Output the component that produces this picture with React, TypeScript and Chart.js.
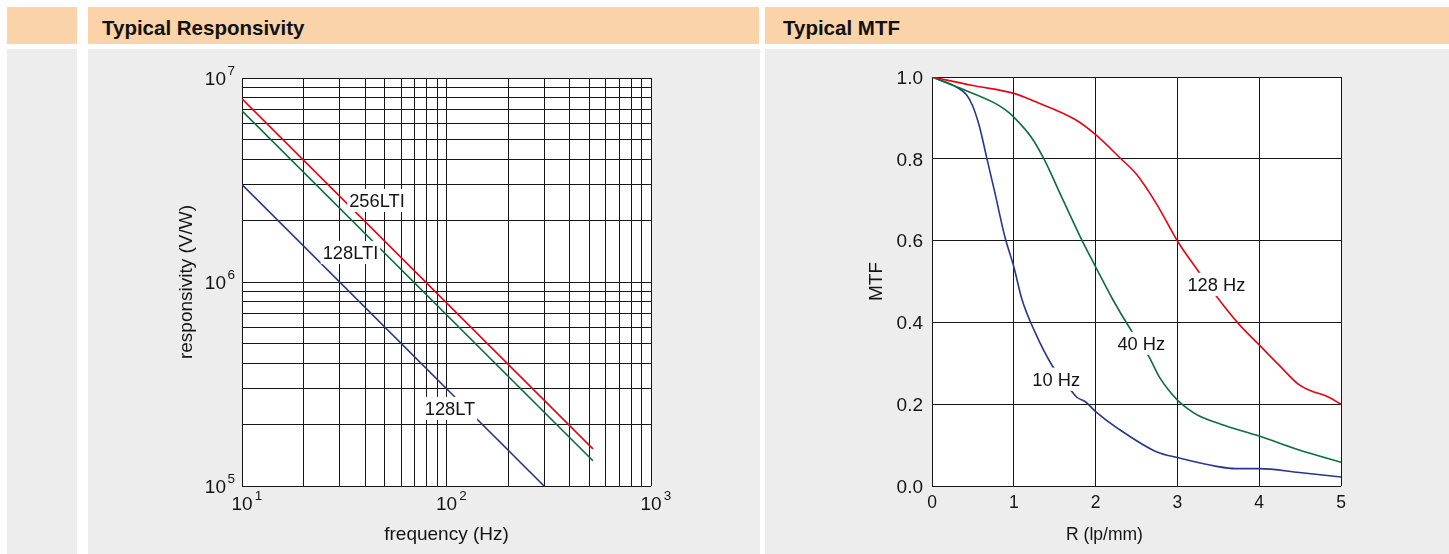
import { useEffect, useRef } from 'react';
import { Chart, registerables } from 'chart.js';

Chart.register(...registerables);

const FONT = '"Liberation Sans", Arial, Helvetica, sans-serif';
const TEXT_COLOR = '#141414';
const GRID_COLOR = '#161616';
const PEACH = '#FAD3A8';
const PANEL_GREY = '#ECEDEC';
const RED = '#E30613';
const GREEN = '#0B6E3C';
const BLUE = '#26378C';

// ---------- Typical Responsivity ----------
const RESP_X_GRID = [10, 20, 30, 40, 50, 60, 70, 80, 90, 100, 200, 300, 400, 500, 600, 700, 800, 900, 1000];
const RESP_Y_GRID = [
  1e5, 2e5, 3e5, 4e5, 5e5, 6e5, 7e5, 8e5, 9e5,
  1e6, 2e6, 3e6, 4e6, 5e6, 6e6, 7e6, 8e6, 9e6, 1e7,
];
const RESP_X_TICKS = [10, 100, 1000];
const RESP_X_EXP = ['1', '2', '3'];
const RESP_Y_TICKS = [1e5, 1e6, 1e7];
const RESP_Y_EXP = ['5', '6', '7'];

const FREQ_256LTI = [10, 520];
const RESP_256LTI = [7.9e6, 1.52e5];
const FREQ_128LTI = [10, 520];
const RESP_128LTI = [6.9e6, 1.33e5];
const FREQ_128LT = [10, 300];
const RESP_128LT = [3.0e6, 1.0e5];

const RESP_LABELS = ['256LTI', '128LTI', '128LT'];
const RESP_LABEL_X = [45.7, 33.9, 104];
const RESP_LABEL_Y = [2.51e6, 1.395e6, 2.4e5];

// ---------- Typical MTF ----------
const MTF_R_128 = [0, 0.5, 1.0, 1.26, 1.75, 2.0, 2.3, 2.5, 2.75, 3.0, 3.26, 3.5, 3.76, 4.0, 4.24, 4.49, 4.63, 4.82, 5.0];
const MTF_128 = [1.0, 0.979, 0.96, 0.94, 0.896, 0.859, 0.802, 0.762, 0.688, 0.599, 0.524, 0.458, 0.394, 0.345, 0.296, 0.247, 0.233, 0.22, 0.2];

const MTF_R_40 = [0, 0.34, 0.75, 0.89, 1.0, 1.22, 1.37, 1.6, 1.84, 2.0, 2.21, 2.43, 2.65, 2.79, 3.0, 3.12, 3.25, 3.53, 4.0, 4.49, 5.0];
const MTF_40 = [1.0, 0.973, 0.938, 0.921, 0.902, 0.851, 0.799, 0.7, 0.598, 0.536, 0.456, 0.382, 0.317, 0.263, 0.21, 0.19, 0.173, 0.151, 0.122, 0.088, 0.058];

const MTF_R_10 = [0, 0.32, 0.42, 0.5, 0.58, 0.665, 0.77, 0.89, 1.0, 1.1, 1.255, 1.47, 1.69, 1.77, 1.875, 2.0, 2.27, 2.75, 3.0, 3.48, 3.71, 4.0, 4.49, 5.0];
const MTF_10 = [1.0, 0.973, 0.957, 0.928, 0.879, 0.806, 0.716, 0.61, 0.536, 0.456, 0.378, 0.294, 0.236, 0.217, 0.206, 0.182, 0.141, 0.083, 0.0695, 0.048, 0.0425, 0.0425, 0.033, 0.022];

const MTF_LABELS = ['128 Hz', '40 Hz', '10 Hz'];
const MTF_LABEL_R = [3.477, 2.559, 1.518];
const MTF_LABEL_M = [0.493, 0.349, 0.261];

const zip = (xs: number[], ys: number[]) => xs.map((x, i) => ({ x, y: ys[i] }));

function drawBoxedLabel(ctx: CanvasRenderingContext2D, text: string, cx: number, cy: number, size: number) {
  ctx.font = `${size}px ${FONT}`;
  const w = ctx.measureText(text).width;
  const cap = size * 0.716;
  ctx.fillStyle = '#ffffff';
  ctx.fillRect(cx - w / 2 - 2, cy - cap / 2 - 5, w + 4, cap + 10);
  ctx.fillStyle = TEXT_COLOR;
  ctx.textAlign = 'center';
  ctx.textBaseline = 'alphabetic';
  ctx.fillText(text, cx, cy + cap / 2);
}

function drawTitles(
  chart: any,
  xTitle: string,
  xSize: number,
  xCenterOffset: number,
  yTitle: string,
  ySize: number,
) {
  const { ctx, chartArea } = chart;
  ctx.save();
  ctx.fillStyle = TEXT_COLOR;
  ctx.textAlign = 'center';
  ctx.textBaseline = 'alphabetic';
  ctx.font = `${xSize}px ${FONT}`;
  ctx.fillText(xTitle, chartArea.left + xCenterOffset, chartArea.bottom + 54);
  ctx.translate(chartArea.left - 50, (chartArea.top + chartArea.bottom) / 2);
  ctx.rotate(-Math.PI / 2);
  ctx.font = `${ySize}px ${FONT}`;
  ctx.fillText(yTitle, 0, 0);
  ctx.restore();
}

const whiteArea = {
  id: 'whiteArea',
  beforeDraw(chart: any) {
    const { ctx, chartArea } = chart;
    ctx.save();
    ctx.fillStyle = '#ffffff';
    ctx.fillRect(chartArea.left, chartArea.top, chartArea.right - chartArea.left, chartArea.bottom - chartArea.top);
    ctx.restore();
  },
};

function ResponsivityChart() {
  const ref = useRef<HTMLCanvasElement | null>(null);
  useEffect(() => {
    if (!ref.current) return;
    const labelsPlugin = {
      id: 'respLabels',
      afterDatasetsDraw(chart: any) {
        const { ctx, scales } = chart;
        ctx.save();
        RESP_LABELS.forEach((t, i) => {
          drawBoxedLabel(ctx, t, scales.x.getPixelForValue(RESP_LABEL_X[i]), scales.y.getPixelForValue(RESP_LABEL_Y[i]), 18.3);
        });
        ctx.restore();
      },
      afterDraw(chart: any) {
        const { ctx, chartArea, scales } = chart;
        ctx.save();
        ctx.fillStyle = TEXT_COLOR;
        ctx.textBaseline = 'alphabetic';
        RESP_Y_TICKS.forEach((v, i) => {
          const y = scales.y.getPixelForValue(v);
          ctx.font = `19px ${FONT}`;
          ctx.textAlign = 'right';
          ctx.fillText('10', chartArea.left - 16, y + 7);
          ctx.font = `13.5px ${FONT}`;
          ctx.textAlign = 'left';
          ctx.fillText(RESP_Y_EXP[i], chartArea.left - 14.5, y - 3);
        });
        RESP_X_TICKS.forEach((v, i) => {
          const x = scales.x.getPixelForValue(v);
          ctx.font = `19px ${FONT}`;
          ctx.textAlign = 'center';
          const w = ctx.measureText('10').width;
          ctx.fillText('10', x, chartArea.bottom + 24);
          ctx.font = `13.5px ${FONT}`;
          ctx.textAlign = 'left';
          ctx.fillText(RESP_X_EXP[i], x + w / 2 + 2.3, chartArea.bottom + 14);
        });
        ctx.restore();
        drawTitles(chart, 'frequency (Hz)', 19, (chartArea.right - chartArea.left) / 2, 'responsivity (V/W)', 19);
      },
    };
    const chart = new Chart(ref.current, {
      type: 'line',
      data: {
        datasets: [
          { label: '256LTI', data: zip(FREQ_256LTI, RESP_256LTI), borderColor: RED, borderWidth: 1.6, pointRadius: 0 },
          { label: '128LTI', data: zip(FREQ_128LTI, RESP_128LTI), borderColor: GREEN, borderWidth: 1.6, pointRadius: 0 },
          { label: '128LT', data: zip(FREQ_128LT, RESP_128LT), borderColor: BLUE, borderWidth: 1.6, pointRadius: 0 },
        ],
      },
      options: {
        animation: false,
        responsive: false,
        events: [],
        layout: { padding: { left: 154, top: 29, right: 109, bottom: 68 } },
        plugins: { legend: { display: false }, tooltip: { enabled: false } },
        scales: {
          x: {
            type: 'logarithmic',
            min: 10,
            max: 1000,
            afterBuildTicks: (s: any) => {
              s.ticks = RESP_X_GRID.map((v) => ({ value: v }));
            },
            afterFit: (s: any) => {
              s.height = 0;
            },
            ticks: { display: false },
            grid: { color: GRID_COLOR, lineWidth: 1, drawTicks: false },
            border: { display: false },
          },
          y: {
            type: 'logarithmic',
            min: 1e5,
            max: 1e7,
            afterBuildTicks: (s: any) => {
              s.ticks = RESP_Y_GRID.map((v) => ({ value: v }));
            },
            afterFit: (s: any) => {
              s.width = 0;
            },
            ticks: { display: false },
            grid: { color: GRID_COLOR, lineWidth: 1, drawTicks: false },
            border: { display: false },
          },
        },
      } as any,
      plugins: [whiteArea, labelsPlugin],
    });
    return () => chart.destroy();
  }, []);
  return (
    <canvas
      ref={ref}
      width={672}
      height={505}
      style={{ position: 'absolute', left: 88, top: 49, width: 672, height: 505 }}
    />
  );
}

function MtfChart() {
  const ref = useRef<HTMLCanvasElement | null>(null);
  useEffect(() => {
    if (!ref.current) return;
    const labelsPlugin = {
      id: 'mtfLabels',
      afterDatasetsDraw(chart: any) {
        const { ctx, scales } = chart;
        ctx.save();
        MTF_LABELS.forEach((t, i) => {
          drawBoxedLabel(ctx, t, scales.x.getPixelForValue(MTF_LABEL_R[i]), scales.y.getPixelForValue(MTF_LABEL_M[i]), 18.3);
        });
        ctx.restore();
      },
      afterDraw(chart: any) {
        drawTitles(chart, 'R (lp/mm)', 17.5, 172.5, 'MTF', 19);
      },
    };
    const chart = new Chart(ref.current, {
      type: 'line',
      data: {
        datasets: [
          { label: '128 Hz', data: zip(MTF_R_128, MTF_128), borderColor: RED, borderWidth: 1.6, pointRadius: 0, cubicInterpolationMode: 'monotone' },
          { label: '40 Hz', data: zip(MTF_R_40, MTF_40), borderColor: GREEN, borderWidth: 1.6, pointRadius: 0, cubicInterpolationMode: 'monotone' },
          { label: '10 Hz', data: zip(MTF_R_10, MTF_10), borderColor: BLUE, borderWidth: 1.6, pointRadius: 0, cubicInterpolationMode: 'monotone' },
        ],
      },
      options: {
        animation: false,
        responsive: false,
        events: [],
        layout: { padding: { left: 107, top: 28, right: 108, bottom: 28 } },
        plugins: { legend: { display: false }, tooltip: { enabled: false } },
        scales: {
          x: {
            type: 'linear',
            min: 0,
            max: 5,
            afterFit: (s: any) => {
              s.height = 40;
            },
            ticks: {
              stepSize: 1,
              maxRotation: 0,
              padding: 7,
              color: TEXT_COLOR,
              font: { family: FONT, size: 17.5 },
            },
            grid: { color: GRID_COLOR, lineWidth: 1, drawTicks: false },
            border: { display: false },
          },
          y: {
            type: 'linear',
            min: 0,
            max: 1,
            afterFit: (s: any) => {
              s.width = 60;
            },
            ticks: {
              stepSize: 0.2,
              padding: 9,
              labelOffset: 1.5,
              color: TEXT_COLOR,
              font: { family: FONT, size: 19 },
              callback: (v: any) => Number(v).toFixed(1),
            },
            grid: { color: GRID_COLOR, lineWidth: 1, drawTicks: false },
            border: { display: false },
          },
        },
      } as any,
      plugins: [whiteArea, labelsPlugin],
    });
    return () => chart.destroy();
  }, []);
  return (
    <canvas
      ref={ref}
      width={684}
      height={505}
      style={{ position: 'absolute', left: 765, top: 49, width: 684, height: 505 }}
    />
  );
}

const headerText: any = {
  position: 'absolute',
  top: 17.5,
  fontFamily: FONT,
  fontWeight: 700,
  fontSize: '20.5px',
  lineHeight: '20.5px',
  color: '#111',
  whiteSpace: 'nowrap',
};

export default function App() {
  return (
    <div style={{ position: 'fixed', left: 0, top: 0, width: 1449, height: 554, background: '#ffffff', overflow: 'hidden' }}>
      <div style={{ position: 'absolute', left: 7, top: 7, width: 70, height: 37, background: PEACH }} />
      <div style={{ position: 'absolute', left: 88, top: 7, width: 671, height: 37, background: PEACH }} />
      <div style={{ position: 'absolute', left: 765, top: 7, width: 684, height: 37, background: PEACH }} />
      <div style={{ position: 'absolute', left: 7, top: 49, width: 70, height: 505, background: PANEL_GREY }} />
      <div style={{ position: 'absolute', left: 88, top: 49, width: 672, height: 505, background: PANEL_GREY }} />
      <div style={{ position: 'absolute', left: 765, top: 49, width: 684, height: 505, background: PANEL_GREY }} />
      <div style={{ ...headerText, left: 102 }}>Typical Responsivity</div>
      <div style={{ ...headerText, left: 783 }}>Typical MTF</div>
      <ResponsivityChart />
      <MtfChart />
    </div>
  );
}
